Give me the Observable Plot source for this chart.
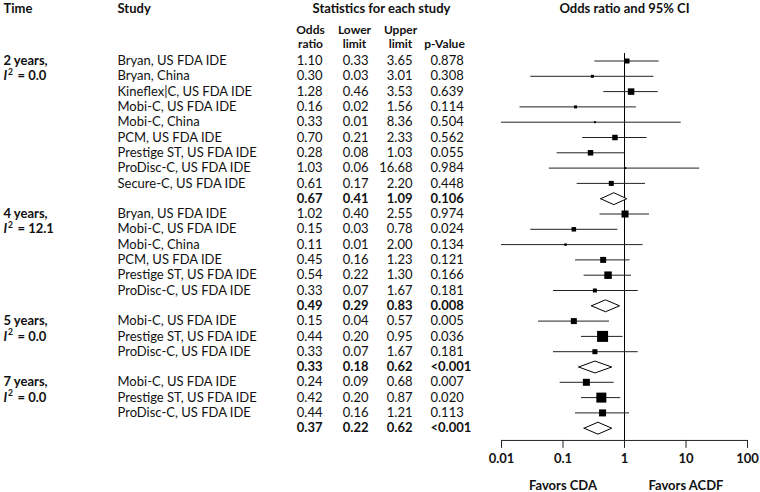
<!DOCTYPE html>
<html>
<head>
<meta charset="utf-8">
<script src="https://cdn.jsdelivr.net/npm/d3@7"></script>
<script src="https://cdn.jsdelivr.net/npm/@observablehq/plot@0.6"></script>
<style>
  html, body { margin: 0; padding: 0; background: #fff; }
  #chart svg { display: block; }
</style>
</head>
<body>
<div id="chart"></div>
<script>
// ---- data ----
const timeLabels = ["2 years,", "4 years,", "5 years,", "7 years,"];
const i2Values = ["0.0", "12.1", "0.0", "0.0"];

const studyGroup = [0,0,0,0,0,0,0,0,0, 1,1,1,1,1,1, 2,2,2, 3,3,3];
const studyNames = [
  "Bryan, US FDA IDE", "Bryan, China", "Kineflex|C, US FDA IDE", "Mobi-C, US FDA IDE",
  "Mobi-C, China", "PCM, US FDA IDE", "Prestige ST, US FDA IDE", "ProDisc-C, US FDA IDE",
  "Secure-C, US FDA IDE",
  "Bryan, US FDA IDE", "Mobi-C, US FDA IDE", "Mobi-C, China", "PCM, US FDA IDE",
  "Prestige ST, US FDA IDE", "ProDisc-C, US FDA IDE",
  "Mobi-C, US FDA IDE", "Prestige ST, US FDA IDE", "ProDisc-C, US FDA IDE",
  "Mobi-C, US FDA IDE", "Prestige ST, US FDA IDE", "ProDisc-C, US FDA IDE"
];
const oddsRatio = [1.10,0.30,1.28,0.16,0.33,0.70,0.28,1.03,0.61, 1.02,0.15,0.11,0.45,0.54,0.33, 0.15,0.44,0.33, 0.24,0.42,0.44];
const lowerLimit = [0.33,0.03,0.46,0.02,0.01,0.21,0.08,0.06,0.17, 0.40,0.03,0.01,0.16,0.22,0.07, 0.04,0.20,0.07, 0.09,0.20,0.16];
const upperLimit = [3.65,3.01,3.53,1.56,8.36,2.33,1.03,16.68,2.20, 2.55,0.78,2.00,1.23,1.30,1.67, 0.57,0.95,1.67, 0.68,0.87,1.21];
const pValues = ["0.878","0.308","0.639","0.114","0.504","0.562","0.055","0.984","0.448",
  "0.974","0.024","0.134","0.121","0.166","0.181",
  "0.005","0.036","0.181",
  "0.007","0.020","0.113"];
// relative study weight (drawn as square size)
const studyWeight = [5,3,6.5,3,2,5.5,5.5,2,5, 7,4.5,2.5,6,7.5,4, 6,11,5, 7,10,7];

const summaryOR = [0.67, 0.49, 0.33, 0.37];
const summaryLower = [0.41, 0.29, 0.18, 0.22];
const summaryUpper = [1.09, 0.83, 0.62, 0.62];
const summaryP = ["0.106", "0.008", "<0.001", "<0.001"];

const axisTicks = [0.01, 0.1, 1, 10, 100];
const axisTickLabels = ["0.01", "0.1", "1", "10", "100"];
const favorsLabels = [{x: 0.1, text: "Favors CDA"}, {x: 10, text: "Favors ACDF"}];

const headerTitles = ["Time", "Study", "Statistics for each study", "Odds ratio and 95% CI"];
const columnHeaders = ["Odds\nratio", "Lower\nlimit", "Upper\nlimit", "\np-Value"];

// ---- build rows ----
const studyRows = [];
const summaryRows = [];
const groupRows = [];
let row = 0;
for (let g = 0; g < timeLabels.length; g++) {
  groupRows.push({g, row, label: timeLabels[g], i2: "= " + i2Values[g]});
  studyGroup.forEach((sg, i) => {
    if (sg !== g) return;
    studyRows.push({row: row++, study: studyNames[i], or: oddsRatio[i], lower: lowerLimit[i],
      upper: upperLimit[i], p: pValues[i], w: studyWeight[i]});
  });
  summaryRows.push({g, row: row++, or: summaryOR[g], lower: summaryLower[g], upper: summaryUpper[g], p: summaryP[g]});
}
const nRows = row; // 25

// diamond polygons for summaries
const diamondHalf = 0.39;
const diamonds = summaryRows.flatMap(s => [
  {g: s.g, x: s.lower, y: s.row},
  {g: s.g, x: s.or, y: s.row - diamondHalf},
  {g: s.g, x: s.upper, y: s.row},
  {g: s.g, x: s.or, y: s.row + diamondHalf},
  {g: s.g, x: s.lower, y: s.row}
]);

// layout (pixel columns)
const FONT = "Lato, 'Open Sans', sans-serif";
const FS = 13;
const colTime = 3, colStudy = 117, colOR = 322, colLow = 368, colUp = 412, colP = 430;
const headCenters = [310, 354, 400, 444];
const axisRow = nRows - 1 + 0.8;
const headRow1 = -3.43, headRowMid = -1.6;

const textOpts = {frameAnchor: "left", fontSize: FS, fill: "#111"};

function numberMarks(rows, bold) {
  const o = {...textOpts, y: "row", fontWeight: bold ? "bold" : "normal"};
  return [
    Plot.text(rows, {...o, text: d => d.or.toFixed(2), dx: colOR, textAnchor: "end"}),
    Plot.text(rows, {...o, text: d => d.lower.toFixed(2), dx: colLow, textAnchor: "end"}),
    Plot.text(rows, {...o, text: d => d.upper.toFixed(2), dx: colUp, textAnchor: "end"}),
    Plot.text(rows, {...o, text: "p", dx: colP, textAnchor: "start"})
  ];
}

const headerMarks = headCenters.map((cx, i) =>
  Plot.text([columnHeaders[i]], {...textOpts, fontSize: 12, lineHeight: 1.12, y: () => headRowMid, text: d => d, dx: cx, textAnchor: "middle", fontWeight: "bold"})
);

const chart = Plot.plot({
  width: 760,
  height: 492,
  margin: 0,
  style: {fontFamily: FONT, fontSize: FS + "px", background: "#fff"},
  x: {type: "log", domain: [0.01, 100], range: [501, 747], axis: null},
  y: {type: "linear", domain: [0, nRows - 1], range: [60.5, 427.7], axis: null},
  r: {type: "identity"},
  marks: [
    // headers
    Plot.text([headerTitles[0]], {...textOpts, y: () => headRow1, text: d => d, dx: colTime, textAnchor: "start", fontWeight: "bold"}),
    Plot.text([headerTitles[1]], {...textOpts, y: () => headRow1, text: d => d, dx: colStudy, textAnchor: "start", fontWeight: "bold"}),
    Plot.text([headerTitles[2]], {...textOpts, y: () => headRow1, text: d => d, dx: 381, textAnchor: "middle", fontWeight: "bold"}),
    Plot.text([headerTitles[3]], {fontSize: FS, fill: "#111", x: () => 1, y: () => headRow1, text: d => d, textAnchor: "middle", fontWeight: "bold"}),
    ...headerMarks,
    // vertical line of no effect
    Plot.ruleX([1], {y1: -0.49, y2: axisRow, stroke: "#000", strokeWidth: 1}),
    // CIs
    Plot.ruleY(studyRows, {y: "row", x1: "lower", x2: "upper", stroke: "#222", strokeWidth: 1}),
    Plot.dot(studyRows, {x: "or", y: "row", symbol: "square", r: d => d.w / Math.sqrt(Math.PI), fill: "#000", stroke: null}),
    Plot.line(diamonds, {x: "x", y: "y", z: "g", fill: "#fff", stroke: "#000", strokeWidth: 1}),
    // axis
    Plot.ruleY([axisRow], {x1: 0.01, x2: 100, stroke: "#222", strokeWidth: 1}),
    Plot.ruleX(axisTicks, {x: d => d, y1: axisRow, y2: axisRow + 0.52, stroke: "#222", strokeWidth: 1}),
    Plot.text(axisTicks, {x: d => d, y: () => axisRow + 1.18, text: (d, i) => axisTickLabels[i], fontWeight: "bold", fontSize: FS, fill: "#111"}),
    Plot.text(favorsLabels, {x: "x", y: () => axisRow + 2.95, text: "text", fontWeight: "bold", fontSize: FS, fill: "#111"}),
    // time column
    Plot.text(groupRows, {...textOpts, y: "row", text: "label", dx: colTime, textAnchor: "start", fontWeight: "bold"}),
    // I² = value : italic I, superscript 2, then value
    Plot.text(groupRows, {...textOpts, y: d => d.row + 1, text: () => "I", dx: colTime, textAnchor: "start", fontWeight: "bold", fontStyle: "italic"}),
    Plot.text(groupRows, {...textOpts, fontSize: 8.5, y: d => d.row + 1, text: () => "2", dx: colTime + 4.5, dy: -4, textAnchor: "start", fontWeight: "bold"}),
    Plot.text(groupRows, {...textOpts, y: d => d.row + 1, text: "i2", dx: colTime + 14, textAnchor: "start", fontWeight: "bold"}),
    // study names
    Plot.text(studyRows, {...textOpts, y: "row", text: "study", dx: colStudy, textAnchor: "start"}),
    // numbers
    ...numberMarks(studyRows, false),
    ...numberMarks(summaryRows, true)
  ]
});

document.getElementById("chart").appendChild(chart);
</script>
</body>
</html>
